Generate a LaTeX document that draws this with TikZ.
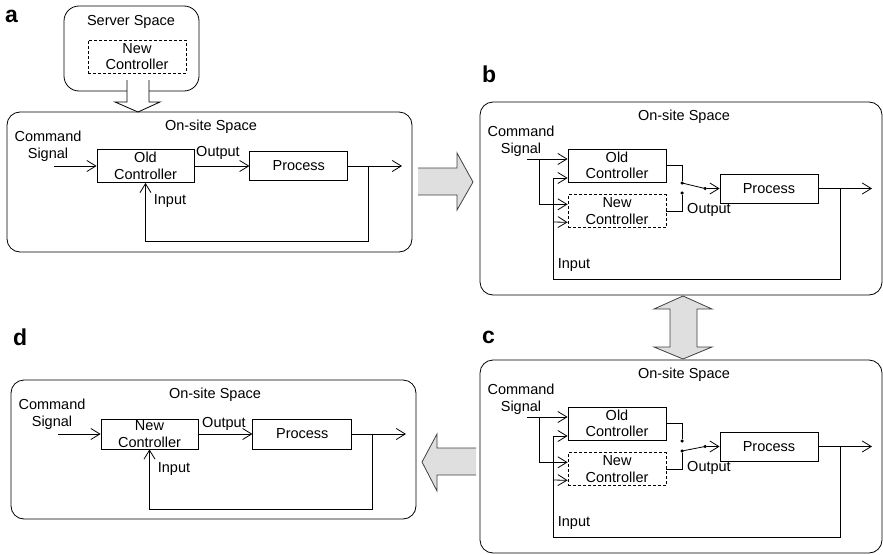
\documentclass[tikz,border=0pt]{standalone}
\usepackage{fontspec}
\setmainfont{Liberation Sans}
\usetikzlibrary{arrows.meta, positioning}

\begin{document}
\begin{tikzpicture}[
                x=1pt, y=-1pt,
                txt/.style={font=\fontsize{14.5}{16.5}\selectfont, align=center, inner sep=0pt},
                panel/.style={font=\bfseries\fontsize{23}{23}\selectfont, anchor=base west, inner sep=0pt},
                site/.style={draw, line width=0.8pt, rounded corners=13pt},
                block/.style={txt, draw, line width=0.8pt, minimum width=98pt, minimum height=33pt},
                newblock/.style={block, dash pattern=on 3pt off 2pt},
                sig/.style={line width=0.8pt, -{Straight Barb[length=9pt, width=11pt]}},
                wire/.style={line width=0.8pt},
                contact/.style={circle, fill, inner sep=0pt, minimum size=3.5pt},
                movearrow/.style={draw=black!75, fill=gray!25, line width=0.8pt}
            ]
            \useasboundingbox (0,0) rectangle (883,554);

            % Panel a: Server
            \node[panel] (aTag) at (5,23) {a};
            \node[site, rounded corners=15pt, minimum width=135pt, minimum height=85pt] (aServer) at (131.5,48.5) {};
            \node[txt] (aServerLbl) at (131,22) {Server Space};
            \node[newblock] (aNew) at (137,56.5) {New\\Controller};

            % Panel a: On-site
            \node[site, minimum width=405pt, minimum height=140pt] (aSite) at (209.5,182) {};
            \node[txt] (aSiteLbl) at (211,127) {On-site Space};
            \node[txt] (aCmd) at (48,146) {Command\\Signal};
            \node[block, minimum width=97pt] (aOld) at (145.5,166) {Old\\Controller};
            \node[block, minimum height=29pt, right=55pt of aOld] (aProc) {Process};
            \node[txt] (aOutLbl) at (218,153) {Output};
            \node[txt] (aInLbl) at (170,201) {Input};
            \coordinate (aIn) at (54,166);
            \coordinate (aTap) at (368,166);
            \coordinate (aOut) at (402,166);

            \filldraw[wire, fill=white] (127,80) -- (127,102) -- (115,102) -- (138,112) -- (160,102) -- (149,102) -- (149,80);
            \draw[sig] (aIn) -- (aOld);
            \draw[sig] (aOld) -- (aProc);
            \draw[sig] (aProc) -- (aOut);
            \draw[sig] (aTap) -- ++(0,75) -| (aOld);

            % Panel b
            \node[panel] (bTag) at (482,82) {b};
            \node[site, minimum width=402pt, minimum height=193pt] (bSite) at (681,198.5) {};
            \node[txt] (bSiteLbl) at (684,117) {On-site Space};
            \node[txt] (bCmd) at (521,141) {Command\\Signal};
            \node[block] (bOld) at (617,165.5) {Old\\Controller};
            \node[newblock, below=12pt of bOld] (bNew) {New\\Controller};
            \node[block, minimum height=29pt] (bProc) at (769,188.5) {Process};
            \node[contact] (bUp) at (682,183) {};
            \node[contact] (bLo) at (682,193) {};
            \node[contact] (bPiv) at (705,188.5) {};
            \node[txt] (bOutLbl) at (709,210) {Output};
            \node[txt] (bInLbl) at (574,265) {Input};
            \coordinate (bIn) at (527,159);
            \coordinate (bFork) at (539,159);
            \coordinate (bTap) at (840,188.5);
            \coordinate (bBack) at (553,279);
            \coordinate (bOut) at (872,188.5);

            \draw[sig] (bIn) -- ([yshift=6.5]bOld.west);
            \draw[sig] (bFork) |- ([yshift=7]bNew.west);
            \draw[wire] (bOld.east) -| (bUp);
            \draw[wire] (bNew.east) -| (bLo);
            \draw[wire] (bUp.center) -- (bPiv.center);
            \draw[sig] (bPiv) -- (bProc);
            \draw[sig] (bProc) -- (bOut);
            \draw[sig] (bTap) |- (bBack) |- ([yshift=-12.5]bOld.west);
            \draw[sig] (bBack) ++(0,-57) -- ([yshift=-11]bNew.west);

            % Panel c
            \node[panel] (cTag) at (482,343) {c};
            \node[site, minimum width=402pt, minimum height=193pt] (cSite) at (681,456.5) {};
            \node[txt] (cSiteLbl) at (684,375) {On-site Space};
            \node[txt] (cCmd) at (521,399) {Command\\Signal};
            \node[block] (cOld) at (617,423.5) {Old\\Controller};
            \node[newblock, below=12pt of cOld] (cNew) {New\\Controller};
            \node[block, minimum height=29pt] (cProc) at (769,446.5) {Process};
            \node[contact] (cUp) at (682,441) {};
            \node[contact] (cLo) at (682,451) {};
            \node[contact] (cPiv) at (705,446.5) {};
            \node[txt] (cOutLbl) at (709,468) {Output};
            \node[txt] (cInLbl) at (574,523) {Input};
            \coordinate (cIn) at (527,417);
            \coordinate (cFork) at (539,417);
            \coordinate (cTap) at (840,446.5);
            \coordinate (cBack) at (553,537);
            \coordinate (cOut) at (872,446.5);

            \draw[sig] (cIn) -- ([yshift=6.5]cOld.west);
            \draw[sig] (cFork) |- ([yshift=7]cNew.west);
            \draw[wire] (cOld.east) -| (cUp);
            \draw[wire] (cNew.east) -| (cLo);
            \draw[wire] (cLo.center) -- (cPiv.center);
            \draw[sig] (cPiv) -- (cProc);
            \draw[sig] (cProc) -- (cOut);
            \draw[sig] (cTap) |- (cBack) |- ([yshift=-12.5]cOld.west);
            \draw[sig] (cBack) ++(0,-57) -- ([yshift=-11]cNew.west);

            % Panel d
            \node[panel] (dTag) at (13,345) {d};
            \node[site, minimum width=405pt, minimum height=139pt] (dSite) at (213.5,449.5) {};
            \node[txt] (dSiteLbl) at (215,395) {On-site Space};
            \node[txt] (dCmd) at (52,414) {Command\\Signal};
            \node[block, minimum width=97pt, minimum height=30pt] (dNew) at (149.5,434) {New\\Controller};
            \node[block, minimum width=99pt, minimum height=30pt, right=54pt of dNew] (dProc) {Process};
            \node[txt] (dOutLbl) at (224,424) {Output};
            \node[txt] (dInLbl) at (174,469) {Input};
            \coordinate (dIn) at (58,434);
            \coordinate (dTap) at (372,434);
            \coordinate (dOut) at (406,434);

            \draw[sig] (dIn) -- (dNew);
            \draw[sig] (dNew) -- (dProc);
            \draw[sig] (dProc) -- (dOut);
            \draw[sig] (dTap) -- ++(0,75) -| (dNew);

            % Uebergaenge
            \filldraw[movearrow] (418,168) -- (457,168) -- (457,153) -- (473,182) -- (457,210) -- (457,195) -- (418,195);
            \filldraw[movearrow] (670,309) -- (654,309) -- (683,296) -- (712,309) -- (697,309) -- (697,347) -- (712,347) -- (683,359) -- (654,347) -- (670,347) -- cycle;
            \filldraw[movearrow] (476,448) -- (437,448) -- (437,434) -- (422,462) -- (437,491) -- (437,475) -- (476,475);

        \end{tikzpicture}
\end{document}
